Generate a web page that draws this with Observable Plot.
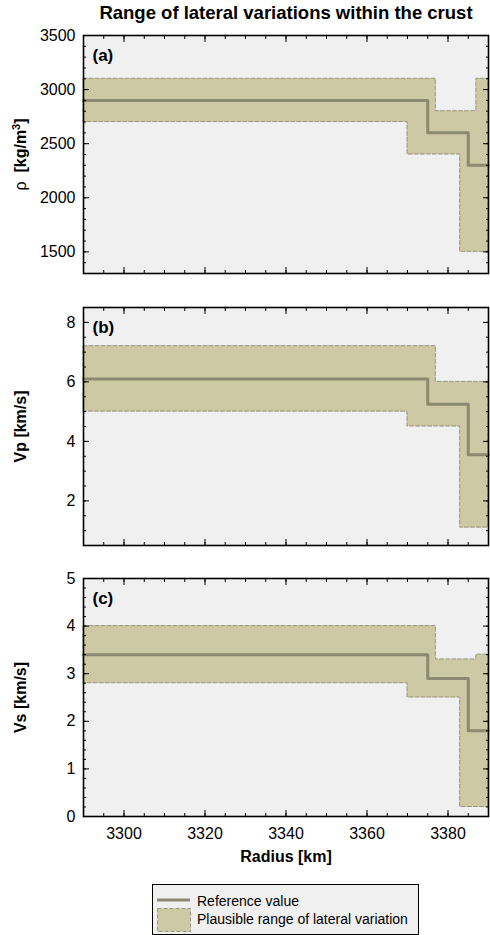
<!DOCTYPE html>
<html>
<head>
<meta charset="utf-8">
<script src="https://cdn.jsdelivr.net/npm/d3@7"></script>
<script src="https://cdn.jsdelivr.net/npm/@observablehq/plot@0.6"></script>
<style>
  body { margin: 0; background: #fff; font-family: "Liberation Sans", Arial, sans-serif; }
  #wrap { position: relative; width: 490px; height: 935px; overflow: hidden; }
  #title { position: absolute; left: 83px; width: 406px; top: 2px; text-align: center;
           font-weight: bold; font-size: 18.5px; font-family: "Liberation Sans", Arial, sans-serif; }
  .panel { position: absolute; left: 0; }
  .panel svg [aria-label="y-axis label"] text, .panel svg [aria-label="x-axis label"] text { font-weight: bold; }
  #legend { position: absolute; left: 0; }
</style>
</head>
<body>
<div id="wrap">
  <div id="title">Range of lateral variations within the crust</div>
</div>
<script>
// ---------- data ----------
const radiusDomain = [3290, 3390];
const xMajorTicks = [3300, 3320, 3340, 3360, 3380];
const xMinorTicks = [3290,3295,3300,3305,3310,3315,3320,3325,3330,3335,3340,3345,3350,3355,3360,3365,3370,3375,3380,3385,3390];

// (a) density
const rhoRefRadius   = [3290, 3375, 3385, 3390];
const rhoRef         = [2900, 2600, 2300, 2300];
const rhoUpperRadius = [3290, 3377, 3387, 3390];
const rhoUpper       = [3100, 2800, 3100, 3100];
const rhoLowerRadius = [3290, 3370, 3383, 3390];
const rhoLower       = [2700, 2400, 1500, 1500];
const rhoDomain = [1300, 3500];
const rhoTicks = [1500, 2000, 2500, 3000, 3500];

// (b) Vp
const vpRefRadius   = [3290, 3375, 3385, 3390];
const vpRef         = [6.1, 5.25, 3.55, 3.55];
const vpUpperRadius = [3290, 3377, 3390];
const vpUpper       = [7.2, 6.0, 6.0];
const vpLowerRadius = [3290, 3370, 3383, 3390];
const vpLower       = [5.0, 4.5, 1.1, 1.1];
const vpDomain = [0.5, 8.5];
const vpTicks = [2, 4, 6, 8];

// (c) Vs
const vsRefRadius   = [3290, 3375, 3385, 3390];
const vsRef         = [3.4, 2.9, 1.8, 1.8];
const vsUpperRadius = [3290, 3377, 3387, 3390];
const vsUpper       = [4.0, 3.3, 3.4, 3.4];
const vsLowerRadius = [3290, 3370, 3383, 3390];
const vsLower       = [2.8, 2.5, 0.2, 0.2];
const vsDomain = [0, 5];
const vsTicks = [0, 1, 2, 3, 4, 5];

const panelLetters = ["(a)", "(b)", "(c)"];
const axisLabels = ["ρ  [kg/m³]", "Vp [km/s]", "Vs [km/s]"];
const legendLabels = ["Reference value", "Plausible range of lateral variation"];
const xLabel = "Radius [km]";

// ---------- styling ----------
const BG = "#f0f0f0", FILL = "#cdc9a5", LINE = "#8b8970";

function stepAt(xs, ys, x) { return ys[Math.max(0, d3.bisectRight(xs, x) - 1)]; }
function bandRows(xU, yU, xL, yL) {
  const xs = Array.from(new Set([...xU, ...xL])).sort((a, b) => a - b);
  return xs.map(x => ({x, lo: stepAt(xL, yL, x), hi: stepAt(xU, yU, x)}));
}

function minorTicks(domain, step) {
  const out = [];
  for (let v = domain[0]; v <= domain[1] + 1e-9; v += step) out.push(+v.toFixed(6));
  return out;
}

function panel(cfg) {
  const ml = 83, mr = 2, mt = 10;
  const mb = cfg.showX ? 60 : 10;
  const band = bandRows(cfg.upR, cfg.up, cfg.loR, cfg.lo);
  const refRows = cfg.refR.map((r, i) => ({r, v: cfg.ref[i]}));
  const yMinor = minorTicks(cfg.domain, cfg.minorStep);
  const marks = [
    Plot.frame({fill: BG}),
    Plot.areaY(band, {x: "x", y1: "lo", y2: "hi", curve: "step-after", fill: FILL,
      stroke: LINE, strokeWidth: 1, strokeDasharray: "4,2", strokeOpacity: 0.85}),
    Plot.line(refRows, {x: "r", y: "v", curve: "step-after", stroke: LINE, strokeWidth: 3}),
    // inward ticks, all four sides
    Plot.axisX({anchor: "bottom", ticks: xMajorTicks, tickSize: 6, dy: -6, text: null, label: null}),
    Plot.axisX({anchor: "bottom", ticks: xMinorTicks, tickSize: 3, dy: -3, text: null, label: null}),
    Plot.axisX({anchor: "top", ticks: xMajorTicks, tickSize: 6, dy: 6, text: null, label: null}),
    Plot.axisX({anchor: "top", ticks: xMinorTicks, tickSize: 3, dy: 3, text: null, label: null}),
    Plot.axisY({anchor: "left", ticks: cfg.ticks, tickSize: 6, dx: 6, text: null, label: null}),
    Plot.axisY({anchor: "left", ticks: yMinor, tickSize: 3, dx: 3, text: null, label: null}),
    Plot.axisY({anchor: "right", ticks: cfg.ticks, tickSize: 6, dx: -6, text: null, label: null}),
    Plot.axisY({anchor: "right", ticks: yMinor, tickSize: 3, dx: -3, text: null, label: null}),
    Plot.axisY({anchor: "left", ticks: cfg.ticks, tickSize: 0, tickPadding: 8, tickFormat: "d",
      label: cfg.label, labelAnchor: "center", labelArrow: "none", labelOffset: 69}),
    Plot.text([cfg.letter], {text: d => d, frameAnchor: "top-left", dx: 9, dy: 13,
      fontWeight: "bold", fontSize: 17, textAnchor: "start", lineAnchor: "top"}),
    Plot.frame({stroke: "black", strokeWidth: 1.6})
  ];
  if (cfg.showX) {
    marks.push(Plot.axisX({anchor: "bottom", ticks: xMajorTicks, tickSize: 0, tickPadding: 11, tickFormat: "d",
      label: xLabel, labelAnchor: "center", labelArrow: "none", labelOffset: 45}));
  }
  const svg = Plot.plot({
    width: 490, height: mt + 238 + mb,
    marginLeft: ml, marginRight: mr, marginTop: mt, marginBottom: mb,
    style: {fontFamily: "'Liberation Sans', Arial, sans-serif", fontSize: "16px", background: "transparent", overflow: "visible", color: "black"},
    x: {domain: radiusDomain},
    y: {domain: cfg.domain},
    marks
  });
  if (cfg.rho) {
    const t = svg.querySelector('[aria-label="y-axis label"] text');
    if (t) {
      t.textContent = "";
      const ns = "http://www.w3.org/2000/svg";
      const parts = [["ρ  ", "normal", null], ["[kg/m", "bold", null], ["3", "bold", "sup"], ["]", "bold", "after"]];
      for (const [s, w, k] of parts) {
        const ts = document.createElementNS(ns, "tspan");
        ts.textContent = s;
        ts.setAttribute("font-weight", w);
        if (k === "sup") { ts.setAttribute("font-size", "11px"); ts.setAttribute("dy", "-6"); }
        if (k === "after") { ts.setAttribute("dy", "6"); }
        t.appendChild(ts);
      }
    }
  }
  const div = document.createElement("div");
  div.className = "panel";
  div.style.top = (cfg.frameTop - mt) + "px";
  div.appendChild(svg);
  document.getElementById("wrap").appendChild(div);
}

panel({refR: rhoRefRadius, ref: rhoRef, upR: rhoUpperRadius, up: rhoUpper, loR: rhoLowerRadius, lo: rhoLower,
  domain: rhoDomain, ticks: rhoTicks, minorStep: 100, label: axisLabels[0], letter: panelLetters[0], frameTop: 35, rho: true});
panel({refR: vpRefRadius, ref: vpRef, upR: vpUpperRadius, up: vpUpper, loR: vpLowerRadius, lo: vpLower,
  domain: vpDomain, ticks: vpTicks, minorStep: 0.5, label: axisLabels[1], letter: panelLetters[1], frameTop: 307});
panel({refR: vsRefRadius, ref: vsRef, upR: vsUpperRadius, up: vsUpper, loR: vsLowerRadius, lo: vsLower,
  domain: vsDomain, ticks: vsTicks, minorStep: 0.2, label: axisLabels[2], letter: panelLetters[2], frameTop: 578, showX: true});

// ---------- legend ----------
(function legend() {
  const svg = d3.create("svg").attr("id", "legend").attr("width", 490).attr("height", 60)
    .style("top", "877px").style("font-family", "'Liberation Sans', Arial, sans-serif");
  svg.append("rect").attr("x", 152.5).attr("y", 7.5).attr("width", 266).attr("height", 50)
    .attr("fill", BG).attr("stroke", "black").attr("stroke-width", 1);
  svg.append("line").attr("x1", 157).attr("x2", 190).attr("y1", 23).attr("y2", 23)
    .attr("stroke", LINE).attr("stroke-width", 3);
  svg.append("rect").attr("x", 157.5).attr("y", 31.5).attr("width", 33).attr("height", 23)
    .attr("fill", FILL).attr("stroke", LINE).attr("stroke-dasharray", "4,2").attr("stroke-opacity", 0.85);
  svg.append("text").attr("x", 197).attr("y", 28.5).attr("font-size", 14).text(legendLabels[0]);
  svg.append("text").attr("x", 197).attr("y", 47).attr("font-size", 14).text(legendLabels[1]);
  document.getElementById("wrap").appendChild(svg.node());
})();
</script>
</body>
</html>
